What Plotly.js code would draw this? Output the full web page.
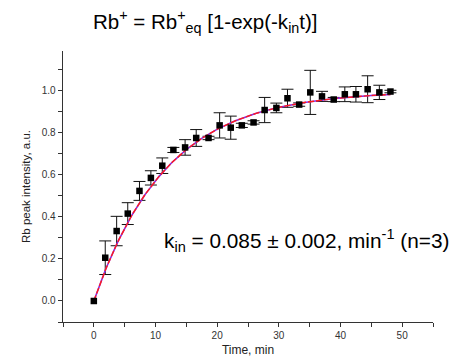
<!DOCTYPE html>
<html><head><meta charset="utf-8">
<script src="https://cdn.plot.ly/plotly-3.0.1.min.js"></script>
<style>html,body{margin:0;padding:0;background:#fff}#chart{width:460px;height:362px}</style>
</head><body><div id="chart"></div>
<script>
// Measured data (time, min ; normalized Rb peak intensity ; error)
const timeMin = [0, 1.85, 3.7, 5.5, 7.4, 9.25, 11.1, 12.9, 14.8, 16.6, 18.6, 20.4, 22.2, 24.0, 25.9, 27.7, 29.6, 31.4, 33.3, 35.1, 37.0, 38.9, 40.7, 42.5, 44.4, 46.3, 48.1];
const intensity = [0.0, 0.206, 0.333, 0.416, 0.524, 0.586, 0.644, 0.719, 0.731, 0.776, 0.776, 0.836, 0.825, 0.836, 0.850, 0.909, 0.919, 0.965, 0.935, 0.993, 0.974, 0.959, 0.984, 0.984, 1.008, 0.993, 0.997];
const errors = [0, 0.080, 0.070, 0.052, 0.045, 0.034, 0.037, 0.012, 0.037, 0.040, 0.008, 0.060, 0.055, 0.010, 0.008, 0.060, 0.023, 0.043, 0.008, 0.105, 0.024, 0.010, 0.035, 0.037, 0.064, 0.034, 0.006];
// Fit parameters: Rb+ = Rb+eq [1-exp(-k t)]
const kin = 0.085;
const rbEq = 1.0;
const fitTStart = 0, fitTEnd = 48.1, fitN = 200;
const fitT = [], fitY = [];
for (let i = 0; i <= fitN; i++) {
  const t = fitTStart + (fitTEnd - fitTStart) * i / fitN;
  fitT.push(t);
  fitY.push(rbEq * (1 - Math.exp(-kin * t)));
}
const yTickVals = [0, 0.2, 0.4, 0.6, 0.8, 1.0];
const yTickText = ['0.0', '0.2', '0.4', '0.6', '0.8', '1.0'];
const xTickVals = [0, 10, 20, 30, 40, 50];
const xTickText = ['0', '10', '20', '30', '40', '50'];

// only points with a non-zero error get an error bar
const ebT = [], ebY = [], ebE = [];
timeMin.forEach((t, i) => { if (errors[i] > 0) { ebT.push(t); ebY.push(intensity[i]); ebE.push(errors[i]); } });

const FONT = 'Arial, "Liberation Sans", sans-serif';
const traces = [
  {x: ebT, y: ebY, mode: 'markers', marker: {size: 1, opacity: 0, color: '#000'},
   error_y: {type: 'data', array: ebE, visible: true, color: '#111', thickness: 1, width: 6}, showlegend: false},
  {x: fitT, y: fitY, mode: 'lines', line: {color: '#8a2be2', width: 1.6}, hoverinfo: 'skip', showlegend: false},
  {x: fitT, y: fitY, mode: 'lines', line: {color: '#ff1a1a', width: 1.4, dash: '6px,2px'}, hoverinfo: 'skip', showlegend: false},
  {x: timeMin, y: intensity, mode: 'markers', type: 'scatter',
   marker: {symbol: 'square', size: 6.5, color: '#000'}, showlegend: false}
];
const axCommon = {
  showline: true, linecolor: '#333', linewidth: 1.3, ticks: 'outside', ticklen: 4, tickwidth: 1, tickcolor: '#333',
  showgrid: false, zeroline: false, tickfont: {family: FONT, size: 10, color: '#333'}
};
const layout = {
  width: 460, height: 362,
  margin: {l: 63, r: 27, t: 51, b: 40},
  paper_bgcolor: '#fff', plot_bgcolor: '#fff',
  xaxis: Object.assign({}, axCommon, {
    range: [-5, 55], tickmode: 'array', tickvals: xTickVals, ticktext: xTickText,
    minor: {dtick: 5, tick0: 0, ticklen: 4, ticks: 'outside', tickcolor: '#333', showgrid: false},
    title: {text: 'Time, min', font: {family: FONT, size: 12, color: '#222'}, standoff: 5}
  }),
  yaxis: Object.assign({}, axCommon, {
    range: [-0.1, 1.19], tickmode: 'array', tickvals: yTickVals, ticktext: yTickText,
    minor: {dtick: 0.1, tick0: 0, ticklen: 4, ticks: 'outside', tickcolor: '#333', showgrid: false},
    title: {text: 'Rb peak intensity, a.u.', font: {family: FONT, size: 11.5, color: '#222'}, standoff: 8}
  }),
  annotations: [
    {xref: 'paper', yref: 'paper', x: (205 - 63) / 370, y: 1 + (51 - 22) / 271, xanchor: 'center', yanchor: 'middle', showarrow: false,
     text: 'Rb<sup>+</sup> = Rb<sup>+</sup><sub>eq</sub> [1-exp(-k<sub>in</sub>t)]', font: {family: FONT, size: 20.5, color: '#000'}},
    {xref: 'paper', yref: 'paper', x: (162 - 63) / 370, y: (322 - 240) / 271, xanchor: 'left', yanchor: 'middle', showarrow: false,
     text: 'k<sub>in</sub> = 0.085 ± 0.002, min<sup>-1</sup> (n=3)', font: {family: FONT, size: 20.8, color: '#000'}}
  ]
};
Plotly.newPlot('chart', traces, layout, {staticPlot: true, displayModeBar: false});
</script></body></html>
